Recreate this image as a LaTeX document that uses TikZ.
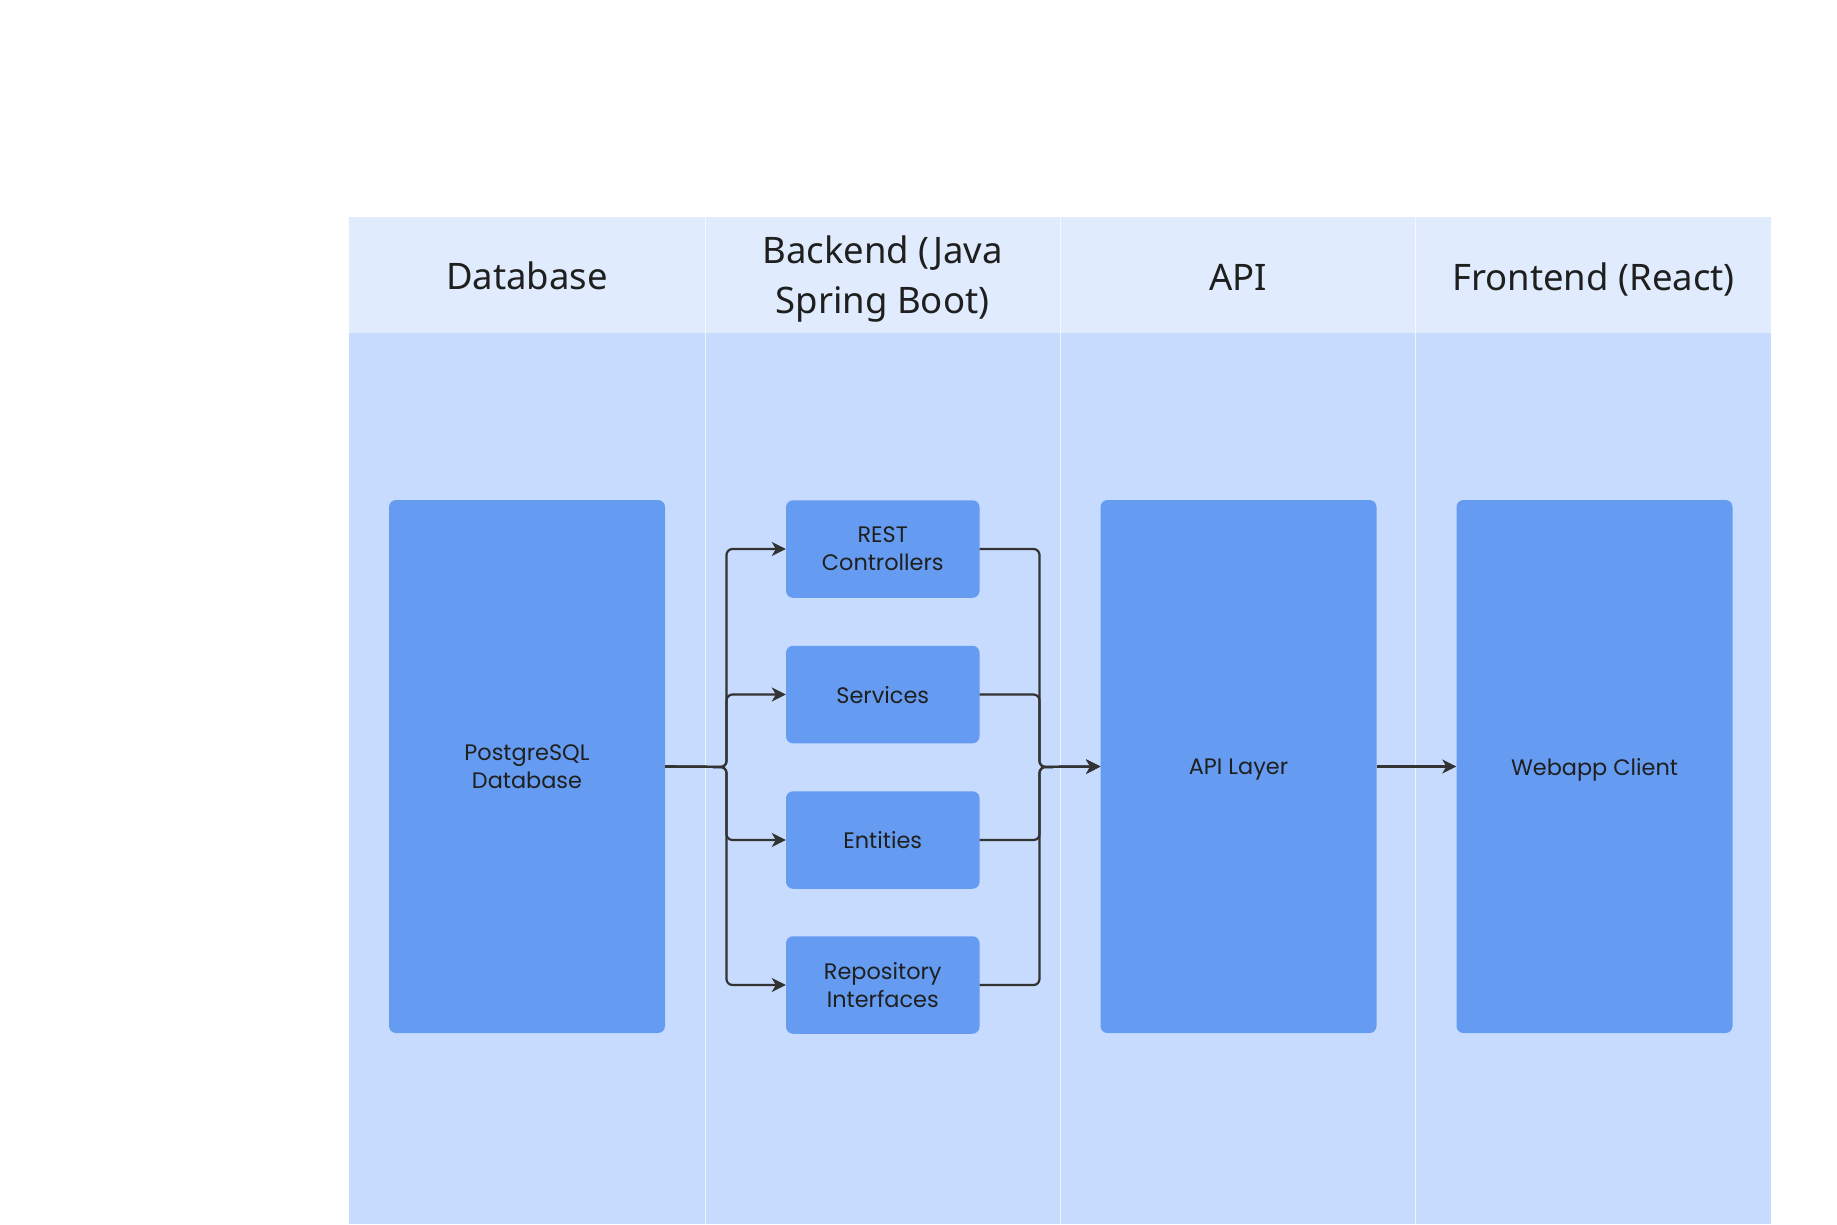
\documentclass[tikz,border=0pt]{standalone}
\usepackage{fontspec}
\setmainfont{Noto Sans}
\newfontfamily\boxfont{Poppins}
\usetikzlibrary{arrows.meta}
\definecolor{hdrbg}{HTML}{E0ECFD}
\definecolor{bodybg}{HTML}{C6DBFD}
\definecolor{boxfill}{HTML}{659CF1}
\definecolor{ink}{HTML}{1F1F1F}
\definecolor{wire}{HTML}{333333}
\tikzset{
  hdr/.style={font=\fontsize{36.5}{50}\selectfont, text=ink, align=center},
  block/.style={fill=boxfill, rounded corners=7pt, font=\boxfont\fontsize{22.4}{28}\selectfont, text=ink, align=center, inner sep=0pt, text depth=0pt},
  bigblock/.style={block, minimum width=276pt, minimum height=533pt},
  smallblock/.style={block, minimum width=193.5pt, minimum height=97.5pt},
  conn/.style={draw=wire, line width=2.2pt, rounded corners=6pt},
  tip/.style={-{Stealth[length=14pt,width=14pt,inset=4pt]}},
  divider/.style={draw=white, opacity=0.7, line width=1pt}
}
\begin{document}
\begin{tikzpicture}[x=1pt,y=-1pt]
\useasboundingbox (0,0) rectangle (1837,1224);
\fill[white] (0,0) rectangle (1837,1224);
% lanes
\fill[hdrbg] (349,217) rectangle (1771,333);
\fill[bodybg] (349,333) rectangle (1771,1224);
\foreach \x in {705,1060,1415} \draw[divider] (\x,217) -- (\x,1224);
% headers
\node[hdr] (h1) at (527,276) {Database};
\node[hdr] (h2) at (882.5,279.5) {Backend (Java\\Spring Boot)};
\node[hdr] (h3) at (1238,277) {API};
\node[hdr] (h4) at (1593.5,279.5) {Frontend (React)};
% blocks
\node[bigblock] (pg) at (527,766.5) {PostgreSQL\\Database};
\node[bigblock] (api) at (1238.5,766.5) {API Layer};
\node[bigblock] (web) at (1594.5,766.5) {Webapp Client};
\node[smallblock] (rest) at (882.75,549) {REST\\Controllers};
\node[smallblock] (svc) at (882.75,694.5) {Services};
\node[smallblock] (ent) at (882.75,840) {Entities};
\node[smallblock] (repo) at (882.75,985) {Repository\\Interfaces};
% junctions
\coordinate (lj) at (726.5,767);
\coordinate (rj) at (1039.5,767);
% connectors
\foreach \b in {rest,svc,ent,repo} {
  \draw[conn,tip] (pg.east) -- (lj) |- (\b.west);
  \draw[conn,tip] (\b.east) -| (rj) -- (api.west);
}
\draw[conn,tip] (api.east) -- (web.west);
\end{tikzpicture}
\end{document}
